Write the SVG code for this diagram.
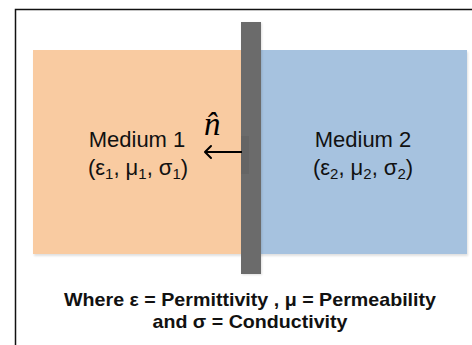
<svg xmlns="http://www.w3.org/2000/svg" width="472" height="345" viewBox="0 0 472 345">
<style>
.lbl{font-family:"Liberation Sans",Arial,sans-serif;font-size:22px;fill:#111;text-anchor:middle}
.sub{font-size:15px}
.note{font-family:"Liberation Sans",Arial,sans-serif;font-size:19px;font-weight:bold;fill:#111;text-anchor:middle}
.shadow{fill:#000;opacity:0.12}
</style>
<defs>
<filter id="blur" x="-10%" y="-10%" width="120%" height="120%"><feGaussianBlur stdDeviation="1.2"/></filter>
</defs>
<rect width="472" height="345" fill="#fff"/>
<path d="M15.5 345 V9.5 H472" fill="none" stroke="#111" stroke-width="1.5"/>
<g id="medium1">
<rect class="shadow" x="34" y="52" width="209" height="204" filter="url(#blur)"/>
<rect x="33" y="50" width="209" height="204" fill="#F9CBA1"/>
<text class="lbl" x="137" y="147">Medium 1</text>
<text class="lbl" x="138" y="175">(ε<tspan class="sub" dy="4">1</tspan><tspan dy="-4">, μ</tspan><tspan class="sub" dy="4">1</tspan><tspan dy="-4">, σ</tspan><tspan class="sub" dy="4">1</tspan><tspan dy="-4">)</tspan></text>
</g>
<g id="medium2">
<rect class="shadow" x="243" y="52" width="225" height="204" filter="url(#blur)"/>
<rect x="242" y="50" width="225" height="204" fill="#A6C2DF"/>
<text class="lbl" x="363" y="147">Medium 2</text>
<text class="lbl" x="363" y="175">(ε<tspan class="sub" dy="4">2</tspan><tspan dy="-4">, μ</tspan><tspan class="sub" dy="4">2</tspan><tspan dy="-4">, σ</tspan><tspan class="sub" dy="4">2</tspan><tspan dy="-4">)</tspan></text>
</g>
<g id="interface">
<rect class="shadow" x="242" y="23" width="20" height="252" filter="url(#blur)"/>
<rect x="241" y="22" width="20" height="252" fill="#6B6B6B"/>
<rect x="241" y="136" width="8" height="38" fill="#000" opacity="0.05"/>
</g>
<g id="connectors">
<path d="M242 152 H205" stroke="#000" stroke-width="2" fill="none"/>
<path d="M211 146 L205 152 L211 158" stroke="#000" stroke-width="2" fill="none" stroke-linecap="round" stroke-linejoin="round"/>
</g>
<g id="normal">
<text x="204" y="135" font-family="'Liberation Serif','Times New Roman',serif" font-style="italic" font-size="33" fill="#000">n̂</text>
</g>
<text class="note" x="250" y="306" textLength="372" lengthAdjust="spacingAndGlyphs">Where ε = Permittivity , μ = Permeability</text>
<text class="note" x="250" y="328" textLength="195" lengthAdjust="spacingAndGlyphs">and σ = Conductivity</text>
</svg>
